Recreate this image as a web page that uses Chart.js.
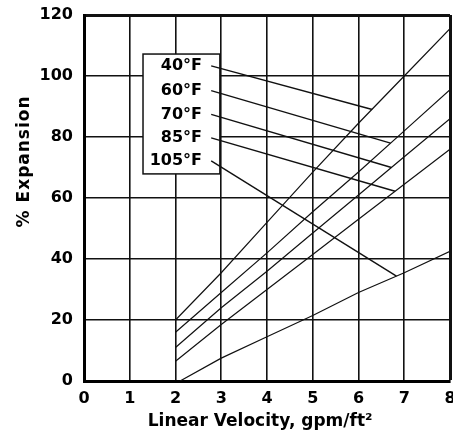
<!DOCTYPE html>
<html>
<head>
<meta charset="utf-8">
<script src="https://cdn.jsdelivr.net/npm/chart.js@4/dist/chart.umd.min.js"></script>
<style>
  html, body { margin: 0; padding: 0; background: #fff; }
  #wrap { position: relative; width: 453px; height: 435px; }
</style>
</head>
<body>
<div id="wrap"><canvas id="exp-chart"></canvas></div>
<script>
// linear velocity (gpm/ft²) vs % bed expansion, one curve per water temperature
const velocity = [2, 3, 4, 5, 6, 7, 8];
const velocity105 = [2.1, 3, 4, 5, 6, 7, 8];
const exp40 = [20, 35.5, 52, 68.5, 84.5, 100, 115.5];
const exp60 = [16, 29, 42, 55.5, 68.5, 82, 95.5];
const exp70 = [11, 24, 36, 48.5, 61, 73.5, 86];
const exp85 = [6.5, 18.5, 30, 41.5, 53, 64.5, 76];
const exp105 = [0, 7.5, 14.5, 21.5, 29, 35.5, 42.5];

const tempLabels = ["40°F", "60°F", "70°F", "85°F", "105°F"];
// leader lines: from the label box to a point on each curve
const leaderFromX = 2.78;
const leaderFromY = [103.3, 95.2, 87.4, 79.7, 72.2];
const leaderToX = [6.3, 6.7, 6.72, 6.8, 6.83];
const leaderToY = [89, 78, 70, 62.2, 34.4];

const xTicks = [0, 1, 2, 3, 4, 5, 6, 7, 8];
const yTicks = [0, 20, 40, 60, 80, 100, 120];
const xTitle = "Linear Velocity, gpm/ft²";
const yTitle = "% Expansion";

const FONT = '"DejaVu Sans", sans-serif';

function toPoints(xs, ys) {
  return xs.map((x, i) => ({ x: x, y: ys[i] }));
}

const curveSets = [
  toPoints(velocity, exp40),
  toPoints(velocity, exp60),
  toPoints(velocity, exp70),
  toPoints(velocity, exp85),
  toPoints(velocity105, exp105)
].map(pts => ({
  data: pts,
  showLine: true,
  borderColor: "#111",
  borderWidth: 1.2,
  pointRadius: 0,
  fill: false,
  tension: 0
}));

const leaderSets = tempLabels.map((t, i) => ({
  data: [
    { x: leaderFromX, y: leaderFromY[i] },
    { x: leaderToX[i], y: leaderToY[i] }
  ],
  showLine: true,
  borderColor: "#111",
  borderWidth: 1.4,
  pointRadius: 0,
  fill: false
}));

const labelBox = {
  id: "labelBox",
  beforeDatasetsDraw(chart) {
    const { ctx, scales: { x, y } } = chart;
    const left = x.getPixelForValue(1.29);
    const right = x.getPixelForValue(2.97);
    const top = y.getPixelForValue(107.2);
    const bottom = y.getPixelForValue(67.9);
    ctx.save();
    ctx.fillStyle = "#fff";
    ctx.fillRect(left, top, right - left, bottom - top);
    ctx.strokeStyle = "#111";
    ctx.lineWidth = 1.5;
    ctx.strokeRect(left, top, right - left, bottom - top);
    ctx.restore();
  },
  afterDatasetsDraw(chart) {
    const { ctx, scales: { x, y } } = chart;
    ctx.save();
    ctx.fillStyle = "#000";
    ctx.font = "bold 16px " + FONT;
    ctx.textAlign = "right";
    ctx.textBaseline = "middle";
    tempLabels.forEach((t, i) => {
      ctx.fillText(t, x.getPixelForValue(2.58), y.getPixelForValue(leaderFromY[i]));
    });

    // axis titles
    ctx.textAlign = "center";
    ctx.font = "bold 17px " + FONT;
    ctx.fillText(xTitle, x.getPixelForValue(3.85), 422);

    ctx.translate(25, y.getPixelForValue(72));
    ctx.rotate(-Math.PI / 2);
    ctx.letterSpacing = "1px";
    ctx.fillText(yTitle, 0, 0);
    ctx.restore();
  }
};

const ctx = document.getElementById("exp-chart").getContext("2d");
const chart = new Chart(ctx, {
  type: "scatter",
  data: { datasets: curveSets.concat(leaderSets) },
  options: {
    responsive: true,
    maintainAspectRatio: false,
    animation: false,
    devicePixelRatio: 1,
    layout: { padding: { top: 15, right: 3, left: 0, bottom: 0 } },
    scales: {
      x: {
        type: "linear",
        min: 0,
        max: 8,
        afterBuildTicks: s => { s.ticks = xTicks.map(v => ({ value: v })); },
        afterFit: s => { s.height = 54; s.paddingLeft = 0; s.paddingRight = 0; },
        ticks: {
          color: "#000",
          padding: 8,
          maxRotation: 0,
          font: { family: FONT, size: 16, weight: "bold" }
        },
        grid: {
          color: "#111",
          drawTicks: false,
          lineWidth: c => (c.tick && c.tick.value === 8 ? 3 : 1.6)
        },
        border: { color: "#000", width: 3 }
      },
      y: {
        min: 0,
        max: 120,
        afterBuildTicks: s => { s.ticks = yTicks.map(v => ({ value: v })); },
        afterFit: s => { s.width = 84; s.paddingTop = 0; s.paddingBottom = 0; },
        ticks: {
          color: "#000",
          padding: 11,
          font: { family: FONT, size: 16, weight: "bold" }
        },
        grid: {
          color: "#111",
          drawTicks: false,
          lineWidth: c => (c.tick && c.tick.value === 120 ? 3 : 1.6)
        },
        border: { color: "#000", width: 3 }
      }
    },
    plugins: {
      legend: { display: false },
      tooltip: { enabled: false }
    }
  },
  plugins: [labelBox]
});
</script>
</body>
</html>
